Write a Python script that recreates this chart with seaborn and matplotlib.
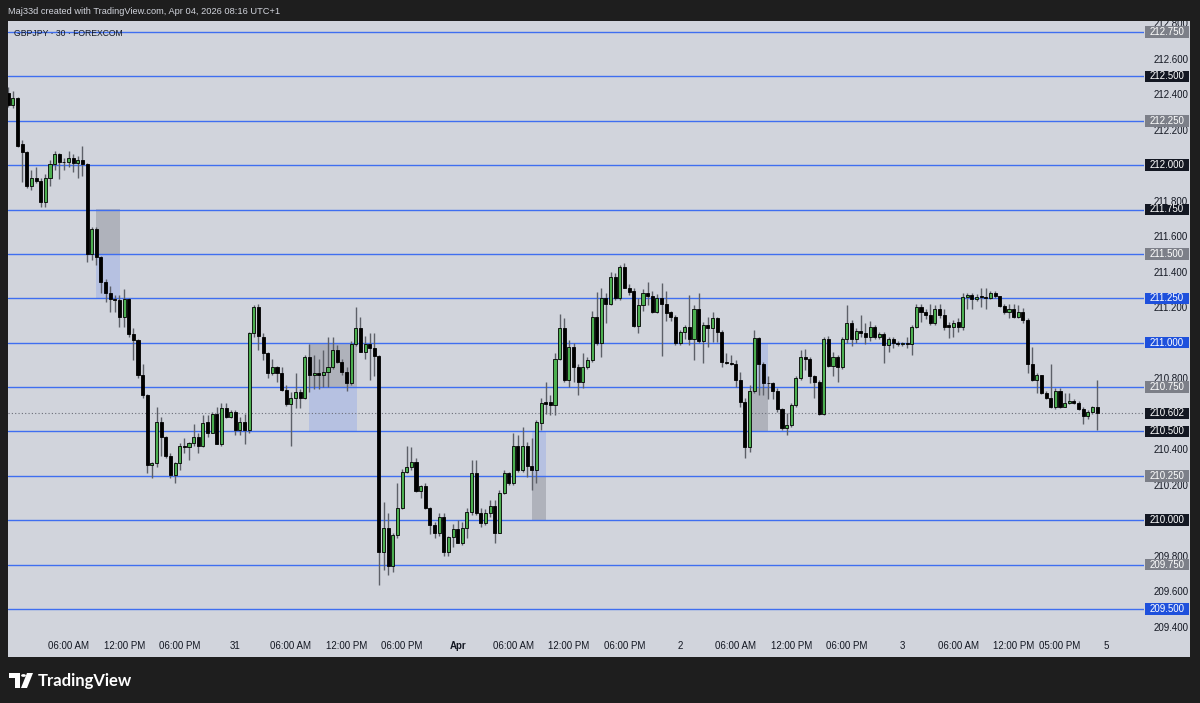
import matplotlib
matplotlib.use("Agg")
import matplotlib.pyplot as plt
import matplotlib.transforms as mtransforms
from matplotlib.patches import Rectangle, Circle, Polygon
import numpy as np
import pandas as pd
import seaborn as sns

# GBPJPY 30 min candles
opens = [212.405, 212.34, 212.38, 212.12, 212.075, 211.88, 211.93, 211.91, 211.79, 211.93,
         212.005, 212.065, 212.02, 212.015, 212.04, 212.01, 212.03, 212.005, 211.50, 211.64,
         211.48, 211.34, 211.28, 211.245, 211.24, 211.145, 211.245, 211.05, 211.015, 210.82,
         210.705, 210.31, 210.32, 210.55, 210.47, 210.36, 210.255, 210.32, 210.42, 210.41,
         210.435, 210.47, 210.42, 210.55, 210.49, 210.60, 210.43, 210.63, 210.58, 210.61,
         210.51, 210.55, 210.51, 211.055, 211.20, 211.03, 210.94, 210.83, 210.865, 210.83,
         210.735, 210.655, 210.69, 210.72, 210.69, 210.92, 210.82, 210.83, 210.82, 210.835,
         210.86, 210.96, 210.89, 210.835, 210.77, 210.99, 211.08, 210.95, 210.99, 210.97,
         210.925, 209.82, 209.955, 209.74, 209.915, 210.07, 210.27, 210.30, 210.33, 210.165,
         210.19, 210.07, 209.97, 209.93, 210.02, 209.82, 209.905, 209.95, 209.87, 209.955,
         210.045, 210.265, 210.04, 209.985, 210.04, 210.08, 209.93, 210.155, 210.265, 210.21,
         210.42, 210.28, 210.42, 210.305, 210.28, 210.55, 210.665, 210.665, 210.65, 210.91,
         211.08, 210.79, 210.975, 210.86, 210.78, 210.86, 210.90, 211.145, 211.00, 211.25,
         211.22, 211.37, 211.25, 211.425, 211.31, 211.29, 211.095, 211.21, 211.28, 211.26,
         211.17, 211.25, 211.22, 211.17, 211.145, 211.00, 211.06, 211.09, 211.02, 211.19,
         211.01, 211.10, 211.08, 211.14, 211.06, 210.89, 210.885, 210.88, 210.79, 210.665,
         210.41, 210.73, 211.025, 210.88, 210.775, 210.77, 210.73, 210.625, 210.52, 210.535,
         210.65, 210.80, 210.92, 210.91, 210.81, 210.78, 210.60, 211.02, 210.87, 210.92,
         210.865, 211.02, 211.11, 211.02, 211.065, 211.055, 211.03, 211.09, 211.03, 211.05,
         210.985, 211.02, 211.00, 210.995, 211.00, 210.995, 211.09, 211.20, 211.17, 211.155,
         211.11, 211.19, 211.155, 211.10, 211.09, 211.115, 211.09, 211.255, 211.27, 211.245,
         211.26, 211.255, 211.25, 211.28, 211.26, 211.205, 211.17, 211.19, 211.145, 211.175,
         211.13, 210.88, 210.79, 210.815, 210.715, 210.69, 210.635, 210.73, 210.64, 210.66,
         210.67, 210.66, 210.625, 210.585, 210.61, 210.64]
highs = [212.44, 212.42, 212.385, 212.14, 212.08, 211.97, 211.99, 211.93, 211.95, 212.03,
         212.08, 212.07, 212.04, 212.08, 212.06, 212.05, 212.11, 212.01, 211.65, 211.65,
         211.49, 211.36, 211.32, 211.27, 211.27, 211.30, 211.25, 211.08, 211.02, 210.88,
         210.71, 210.325, 210.635, 210.58, 210.475, 210.38, 210.33, 210.435, 210.46, 210.44,
         210.54, 210.49, 210.59, 210.59, 210.61, 210.64, 210.66, 210.66, 210.62, 210.62,
         210.58, 210.60, 211.06, 211.21, 211.22, 211.055, 210.95, 210.91, 210.87, 210.86,
         210.76, 210.72, 210.83, 210.74, 210.93, 210.99, 210.93, 210.91, 210.96, 211.03,
         211.03, 210.985, 210.91, 210.86, 211.01, 211.20, 211.145, 211.04, 211.055, 211.055,
         210.93, 210.10, 210.04, 209.93, 210.21, 210.29, 210.42, 210.41, 210.35, 210.20,
         210.21, 210.075, 209.99, 210.04, 210.04, 209.91, 209.98, 210.00, 209.99, 210.07,
         210.34, 210.34, 210.07, 210.06, 210.115, 210.115, 210.17, 210.28, 210.27, 210.49,
         210.48, 210.525, 210.44, 210.46, 210.565, 210.69, 210.78, 210.705, 210.94, 211.16,
         211.14, 211.015, 211.00, 210.88, 210.94, 210.92, 211.18, 211.285, 211.31, 211.28,
         211.40, 211.395, 211.44, 211.45, 211.33, 211.31, 211.25, 211.30, 211.34, 211.29,
         211.275, 211.335, 211.29, 211.18, 211.155, 211.07, 211.10, 211.27, 211.21, 211.28,
         211.115, 211.145, 211.17, 211.145, 211.07, 210.94, 210.93, 210.90, 210.835, 210.69,
         210.76, 211.07, 211.03, 210.89, 210.81, 210.78, 210.745, 210.63, 210.605, 210.66,
         210.81, 210.96, 210.965, 210.92, 210.82, 210.79, 211.03, 211.04, 210.95, 210.93,
         211.03, 211.21, 211.125, 211.08, 211.155, 211.11, 211.12, 211.10, 211.06, 211.06,
         211.03, 211.03, 211.01, 211.005, 211.03, 211.10, 211.215, 211.22, 211.19, 211.22,
         211.21, 211.22, 211.19, 211.115, 211.13, 211.14, 211.28, 211.28, 211.28, 211.275,
         211.31, 211.31, 211.29, 211.29, 211.265, 211.215, 211.22, 211.22, 211.21, 211.195,
         211.14, 210.975, 210.83, 210.82, 210.73, 210.88, 210.745, 210.745, 210.715, 210.715,
         210.68, 210.67, 210.635, 210.62, 210.645, 210.79]
lows = [212.33, 212.32, 212.10, 211.905, 211.87, 211.86, 211.90, 211.765, 211.765, 211.88,
        211.97, 211.92, 211.97, 211.99, 211.96, 211.93, 211.94, 211.455, 211.465, 211.44,
        211.28, 211.23, 211.17, 211.17, 211.09, 211.09, 211.03, 210.90, 210.80, 210.69,
        210.265, 210.24, 210.30, 210.36, 210.35, 210.24, 210.21, 210.28, 210.38, 210.34,
        210.42, 210.38, 210.41, 210.47, 210.49, 210.43, 210.42, 210.575, 210.575, 210.48,
        210.48, 210.43, 210.49, 211.03, 210.96, 210.90, 210.80, 210.82, 210.78, 210.73,
        210.645, 210.42, 210.63, 210.63, 210.68, 210.72, 210.74, 210.74, 210.75, 210.75,
        210.85, 210.885, 210.82, 210.73, 210.76, 210.98, 210.945, 210.91, 210.79, 210.81,
        209.635, 209.72, 209.69, 209.71, 209.90, 210.06, 210.265, 210.28, 210.16, 210.125,
        210.06, 209.92, 209.90, 209.91, 209.80, 209.80, 209.85, 209.87, 209.86, 209.90,
        210.03, 210.03, 209.96, 209.97, 210.02, 209.87, 209.93, 210.15, 210.20, 210.20,
        210.27, 210.27, 210.245, 210.17, 210.21, 210.51, 210.60, 210.59, 210.59, 210.90,
        210.78, 210.75, 210.78, 210.705, 210.745, 210.85, 210.89, 210.985, 210.92, 211.11,
        211.21, 211.24, 211.24, 211.31, 211.27, 211.09, 211.055, 211.18, 211.21, 211.165,
        211.165, 210.925, 211.12, 211.12, 210.985, 210.985, 211.02, 210.985, 210.90, 211.00,
        210.885, 210.975, 211.005, 211.005, 210.86, 210.88, 210.875, 210.75, 210.635, 210.35,
        210.385, 210.715, 210.705, 210.705, 210.68, 210.68, 210.61, 210.51, 210.48, 210.525,
        210.635, 210.79, 210.845, 210.77, 210.69, 210.59, 210.59, 210.86, 210.81, 210.78,
        210.85, 211.00, 210.98, 211.00, 211.03, 210.995, 211.01, 211.02, 211.02, 210.885,
        210.95, 210.97, 210.98, 210.98, 210.97, 210.93, 211.08, 211.115, 211.135, 211.10,
        211.10, 211.14, 211.07, 211.025, 211.03, 211.06, 211.07, 211.19, 211.19, 211.235,
        211.20, 211.19, 211.245, 211.25, 211.20, 211.16, 211.14, 211.14, 211.14, 211.11,
        210.83, 210.785, 210.715, 210.71, 210.685, 210.63, 210.625, 210.63, 210.635, 210.655,
        210.655, 210.62, 210.54, 210.57, 210.60, 210.505]
closes = [212.34, 212.38, 212.11, 212.075, 211.88, 211.93, 211.91, 211.79, 211.93, 212.005,
          212.065, 212.02, 212.015, 212.04, 212.01, 212.03, 212.005, 211.50, 211.64, 211.48,
          211.34, 211.28, 211.245, 211.24, 211.145, 211.245, 211.05, 211.015, 210.82, 210.705,
          210.31, 210.32, 210.55, 210.47, 210.36, 210.255, 210.32, 210.42, 210.41, 210.435,
          210.47, 210.42, 210.55, 210.49, 210.60, 210.43, 210.63, 210.58, 210.61, 210.51,
          210.55, 210.51, 211.055, 211.20, 211.04, 210.94, 210.83, 210.865, 210.83, 210.735,
          210.655, 210.69, 210.72, 210.69, 210.92, 210.82, 210.83, 210.82, 210.835, 210.86,
          210.96, 210.89, 210.835, 210.77, 210.99, 211.08, 210.95, 210.99, 210.97, 210.925,
          209.82, 209.955, 209.74, 209.915, 210.07, 210.27, 210.30, 210.33, 210.165, 210.19,
          210.07, 209.97, 209.93, 210.02, 209.82, 209.905, 209.95, 209.87, 209.955, 210.045,
          210.265, 210.04, 209.985, 210.04, 210.08, 209.93, 210.155, 210.265, 210.21, 210.42,
          210.28, 210.42, 210.305, 210.28, 210.55, 210.66, 210.655, 210.65, 210.91, 211.08,
          210.79, 210.975, 210.86, 210.78, 210.86, 210.90, 211.145, 211.00, 211.25, 211.22,
          211.37, 211.25, 211.425, 211.31, 211.285, 211.095, 211.21, 211.28, 211.26, 211.17,
          211.25, 211.22, 211.165, 211.145, 211.00, 211.06, 211.09, 211.02, 211.19, 211.01,
          211.10, 211.08, 211.14, 211.06, 210.89, 210.885, 210.88, 210.79, 210.665, 210.41,
          210.73, 211.025, 210.88, 210.775, 210.77, 210.73, 210.625, 210.52, 210.535, 210.65,
          210.80, 210.92, 210.91, 210.81, 210.78, 210.60, 211.02, 210.87, 210.92, 210.865,
          211.02, 211.11, 211.02, 211.065, 211.055, 211.03, 211.09, 211.03, 211.05, 210.985,
          211.02, 211.00, 210.995, 211.00, 210.995, 211.09, 211.20, 211.17, 211.155, 211.11,
          211.19, 211.155, 211.09, 211.09, 211.11, 211.09, 211.255, 211.27, 211.245, 211.255,
          211.255, 211.25, 211.28, 211.26, 211.205, 211.17, 211.19, 211.145, 211.175, 211.13,
          210.88, 210.79, 210.815, 210.715, 210.69, 210.635, 210.73, 210.64, 210.66, 210.67,
          210.66, 210.625, 210.585, 210.61, 210.64, 210.602]

# horizontal levels drawn on the chart and the colour of their price tag
level_prices = [212.75, 212.5, 212.25, 212.0, 211.75, 211.5, 211.25, 211.0,
                210.75, 210.5, 210.25, 210.0, 209.75, 209.5]
level_tags = ["gray", "black", "gray", "black", "black", "gray", "blue", "blue",
              "gray", "black", "gray", "black", "gray", "blue"]
last_price = 210.602

# right scale labels that stay visible (the others sit under a price tag)
scale_prices = [212.8, 212.6, 212.4, 212.2, 211.8, 211.6, 211.4, 211.2,
                210.8, 210.4, 210.2, 209.8, 209.6, 209.4]

# shaded zones: (first bar, last bar, low, high, kind)
zones = [(19.0, 24.1, 211.50, 211.75, "gray"), (19.0, 24.1, 211.25, 211.50, "blue"),
         (65.0, 75.2, 210.75, 211.00, "gray"), (65.0, 75.2, 210.50, 210.75, "blue"),
         (113.0, 116.0, 210.25, 210.50, "blue"), (113.0, 116.0, 210.00, 210.25, "gray"),
         (160.5, 164.0, 210.75, 211.00, "blue"), (160.5, 164.0, 210.50, 210.75, "gray")]

# time axis labels (bar index of each label)
tick_bars = [13, 25, 37, 49, 61, 73, 85, 97, 109, 121, 133, 145, 157, 169, 181, 193, 205, 217, 227, 237]
tick_labels = ["06:00 AM", "12:00 PM", "06:00 PM", "31", "06:00 AM", "12:00 PM", "06:00 PM", "Apr",
               "06:00 AM", "12:00 PM", "06:00 PM", "2", "06:00 AM", "12:00 PM", "06:00 PM", "3",
               "06:00 AM", "12:00 PM", "05:00 PM", "5"]

W, H = 1200, 703
BG = "#1e1e1e"
PANEL = "#d1d4dc"
TXT = "#131722"
GREEN = "#4caf50"
WICK = "#5d6068"
LINE = "#3f6ef0"
TAG = {"gray": "#7c7f88", "black": "#131722", "blue": "#1e50dc"}
ZONE = {"gray": ("#787b86", 0.38), "blue": ("#2962ff", 0.16)}

sns.set_theme(style="white", rc={"axes.facecolor": PANEL, "figure.facecolor": BG})
plt.rcParams["font.family"] = ["Liberation Sans", "DejaVu Sans"]

df = pd.DataFrame({"open": opens, "high": highs, "low": lows, "close": closes})
df["bar"] = np.arange(len(df))
df["up"] = df["close"] >= df["open"]


def fx(px):
    return px / W


def fy(py):
    return 1 - py / H


fig = plt.figure(figsize=(W / 100, H / 100), dpi=100)
fig.add_artist(Rectangle((fx(8), fy(657)), fx(1190) - fx(8), fy(20.5) - fy(657),
                         transform=fig.transFigure, fc=PANEL, ec="none", zorder=-1))

ax_l, ax_r, ax_t, ax_b = 8, 1144, 20.5, 633
ax = fig.add_axes([fx(ax_l), fy(ax_b), fx(ax_r) - fx(ax_l), fy(ax_t) - fy(ax_b)])
ax.set_facecolor(PANEL)
sns.despine(ax=ax, left=True, bottom=True, right=True, top=True)

# pixel calibration of the screenshot
bar_px, bar0_px = 4.633, 8.3
price_px, ref_price, ref_py = 177.5, 212.75, 32
ax.set_xlim((ax_l - bar0_px) / bar_px, (ax_r - bar0_px) / bar_px)
ax.set_ylim(ref_price - (ax_b - ref_py) / price_px, ref_price + (ref_py - ax_t) / price_px)
ax.grid(False)

for start, end, lo, hi, kind in zones:
    col, al = ZONE[kind]
    ax.add_patch(Rectangle((start, lo), end - start, hi - lo, fc=col, alpha=al, ec="none", zorder=1))

for p in level_prices:
    ax.axhline(p, color=LINE, lw=1.0, zorder=2)
ax.axhline(last_price, color="#6a6d78", lw=0.8, ls=(0, (1, 2)), zorder=2)

ax.vlines(df["bar"], df["low"], df["high"], color=WICK, lw=1.0, zorder=3)
body_lo = np.minimum(df["open"], df["close"])
body_h = np.maximum((df["close"] - df["open"]).abs(), 0.005)
ax.bar(df["bar"], body_h, bottom=body_lo, width=0.66,
       color=np.where(df["up"], GREEN, "black"), edgecolor="black", linewidth=0.6, zorder=4)

# axes
ax.yaxis.tick_right()
ax.set_yticks(scale_prices)
ax.set_yticklabels([f"{v:.3f}" for v in scale_prices])
ax.tick_params(axis="y", length=0, pad=7, labelsize=7, labelcolor=TXT)
ax.set_xticks(tick_bars)
ax.set_xticklabels(tick_labels)
ax.tick_params(axis="x", length=0, pad=6, labelsize=7, labelcolor=TXT)
for lab in ax.get_xticklabels():
    if lab.get_text() == "Apr":
        lab.set_fontweight("bold")

# price tags on the right scale
trans = mtransforms.blended_transform_factory(ax.transAxes, ax.transData)
span = ax_r - ax_l


def axx(px):
    return (px - ax_l) / span


tag_h = 11.5 / price_px
for p, kind in list(zip(level_prices, level_tags)) + [(last_price, "black")]:
    ax.add_patch(Rectangle((axx(1145), p - tag_h / 2), axx(1189) - axx(1145), tag_h,
                           transform=trans, fc=TAG[kind], ec="none", clip_on=False, zorder=6))
    ax.text(axx(1167), p, f"{p:.3f}", transform=trans, ha="center", va="center",
            color="white", fontsize=7, clip_on=False, zorder=7)

# frame pieces of the screenshot
fig.add_artist(Rectangle((0, fy(20.5)), 1, 1 - fy(20.5), transform=fig.transFigure,
                         fc=BG, ec="none", zorder=5))
fig.text(fx(8), fy(11.5), "Maj33d created with TradingView.com, Apr 04, 2026 08:16 UTC+1",
         color="#d1d4dc", fontsize=6.7, va="center", ha="left", zorder=6)
fig.text(fx(14), fy(33), "GBPJPY · 30 · FOREXCOM", color=TXT, fontsize=6.2, va="center", ha="left", zorder=6)

# TradingView logo
fig.add_artist(Polygon([(fx(9), fy(673)), (fx(20), fy(673)), (fx(20), fy(688)), (fx(15), fy(688)),
                        (fx(15), fy(678)), (fx(9), fy(678))], closed=True,
                       transform=fig.transFigure, fc="white", ec="none", zorder=6))
fig.add_artist(Circle((fx(23.5), fy(675.5)), 2.4 / W, transform=fig.transFigure,
                      fc="white", ec="none", zorder=6))
fig.add_artist(Polygon([(fx(27), fy(673)), (fx(33), fy(673)), (fx(27), fy(688)), (fx(21), fy(688))],
                       closed=True, transform=fig.transFigure, fc="white", ec="none", zorder=6))
fig.text(fx(38), fy(681), "TradingView", color="white", fontsize=12, fontweight="bold",
         family=["Lato", "DejaVu Sans"], va="center", ha="left", zorder=6)

fig.savefig("out.png", dpi=100, facecolor=BG)
